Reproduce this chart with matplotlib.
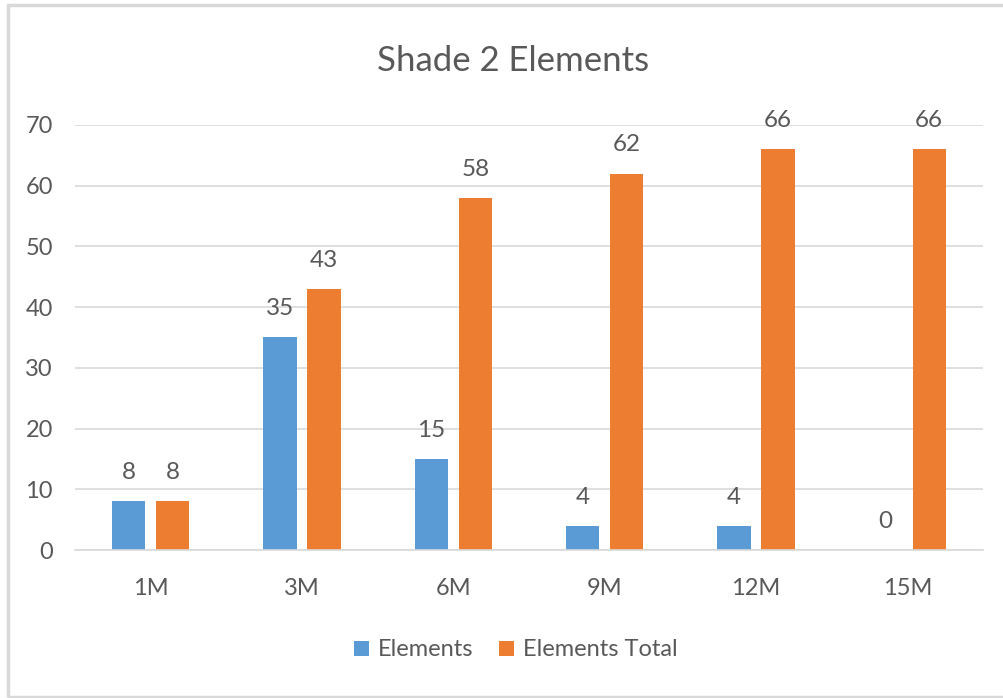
import numpy as np
from matplotlib import pyplot as plt
from matplotlib.patches import Rectangle

plt.rcParams['font.family'] = ['Lato', 'DejaVu Sans']

categories = ['1M', '3M', '6M', '9M', '12M', '15M']
elements = [8, 35, 15, 4, 4, 0]
elements_total = [8, 43, 58, 62, 66, 66]

BLUE = '#5B9BD5'
ORANGE = '#ED7D31'
TEXT = '#595959'
GRID = '#D9D9D9'

fig = plt.figure(figsize=(10.04, 6.98), dpi=100)
ax = fig.add_axes([0.0747, 0.212, 0.9043, 0.609])

x = np.arange(len(categories))
width = 0.22
b1 = ax.bar(x - 0.145, elements, width, color=BLUE, label='Elements')
b2 = ax.bar(x + 0.145, elements_total, width, color=ORANGE, label='Elements Total')

# value labels above each bar
for bars, vals in ((b1, elements), (b2, elements_total)):
    for rect, v in zip(bars, vals):
        ax.annotate(str(v), (rect.get_x() + rect.get_width() / 2, v),
                    xytext=(0, 13), textcoords='offset points',
                    ha='center', va='bottom', fontsize=17.5, color=TEXT)

ax.set_xlim(-0.5, len(categories) - 0.5)
ax.set_ylim(0, 70)
ax.set_yticks(range(0, 71, 10))
ax.set_xticks(x)
ax.set_xticklabels(categories)
ax.tick_params(axis='both', length=0, labelsize=17, labelcolor=TEXT)
ax.tick_params(axis='x', pad=20)
ax.tick_params(axis='y', pad=16)

ax.grid(axis='y', color=GRID, linewidth=1.2)
ax.set_axisbelow(True)
for s in ('top', 'right', 'left'):
    ax.spines[s].set_visible(False)
ax.spines['bottom'].set_color(GRID)
ax.spines['bottom'].set_linewidth(1.2)

fig.text(0.511, 0.912, 'Shade 2 Elements', ha='center', va='center',
         fontsize=25, color=TEXT)

fig.legend(loc='center', bbox_to_anchor=(0.514, 0.069), ncol=2, frameon=False,
           fontsize=17, labelcolor=TEXT, handlelength=0.6, handleheight=0.6,
           handletextpad=0.4, columnspacing=1.1)

# light frame round the chart area
fig.patches.append(Rectangle((8 / 1004, 1 / 698), 1.0, 692 / 698, transform=fig.transFigure,
                             fill=False, edgecolor=GRID, linewidth=2.5))

fig.savefig('out.png', dpi=100)
